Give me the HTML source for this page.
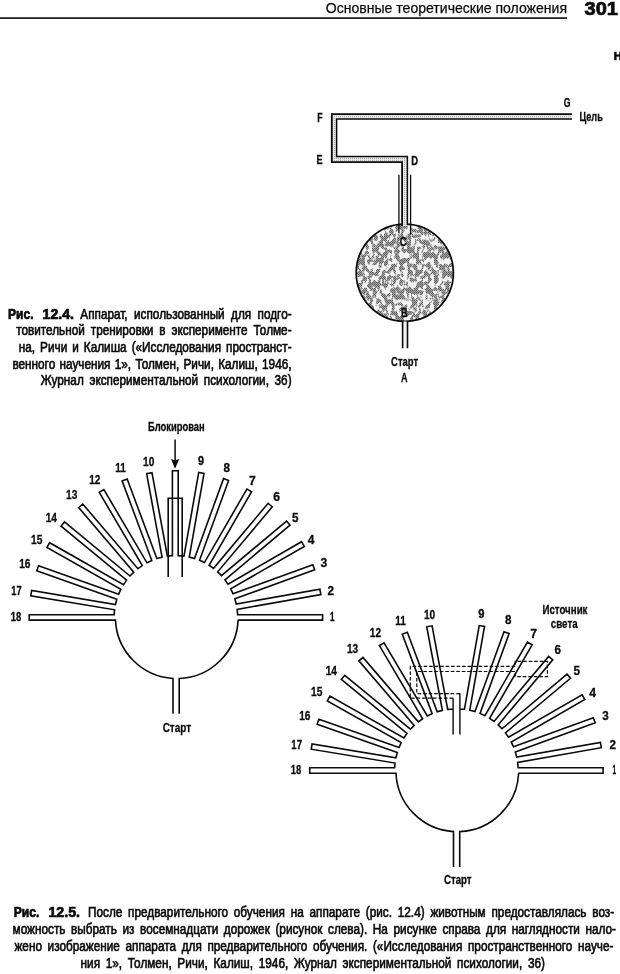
<!DOCTYPE html>
<html lang="ru"><head><meta charset="utf-8"><title>301</title>
<style>
html,body{margin:0;padding:0;background:#fff;}
body{width:620px;height:974px;overflow:hidden;position:relative;}
svg{position:absolute;left:0;top:0;display:block;}
text{font-family:"Liberation Sans",sans-serif;fill:#0a0a0a;}
.ln{stroke:#0a0a0a;fill:none;}
.lb{font-weight:bold;stroke:#0a0a0a;stroke-width:0.3px;}
.cp{stroke:#0a0a0a;stroke-width:0.65px;}
.hd{stroke:#0a0a0a;stroke-width:0.25px;}
.b{font-weight:bold;stroke:#0a0a0a;stroke-width:0.7px;}
svg{transform:translateZ(0);filter:blur(0.35px);}
</style></head><body>
<svg width="620" height="974" viewBox="0 0 620 974">
<defs>
<filter id="stip" x="0" y="0" width="100%" height="100%" color-interpolation-filters="sRGB"><feTurbulence type="fractalNoise" baseFrequency="0.26 0.17" numOctaves="3" seed="11" result="n"/><feColorMatrix in="n" type="matrix" values="0 0 0 0 0  0 0 0 0 0  0 0 0 0 0  9 0 0 0 -3.9" result="m"/><feComposite in="SourceGraphic" in2="m" operator="in"/></filter>
<pattern id="dots" width="2" height="2" patternUnits="userSpaceOnUse"><rect width="2" height="2" fill="#a2a2a2"/><rect width="1" height="1" fill="#5c5c5c"/><rect x="1" y="1" width="1" height="1" fill="#6e6e6e"/></pattern>
<pattern id="dots2" width="2" height="2" patternUnits="userSpaceOnUse"><rect width="2" height="2" fill="#e6e6e6"/><rect width="1" height="1" fill="#b4b4b4"/></pattern>
</defs>
<text x="325.80" y="13.0" font-size="14.2" textLength="241.20" lengthAdjust="spacingAndGlyphs" class="hd">Основные теоретические положения</text>
<text x="584.60" y="15.0" font-size="18" textLength="33.31" lengthAdjust="spacingAndGlyphs" class="b hb">301</text>
<rect x="0" y="17.3" width="567" height="1.6" fill="#0a0a0a"/>
<text x="613.80" y="60.0" font-size="11.5" textLength="8.30" lengthAdjust="spacingAndGlyphs" class="b">Н</text>
<circle cx="404.8" cy="272.8" r="48.6" fill="#f3f3f3"/>
<circle cx="404.8" cy="272.8" r="48.6" fill="url(#dots)" filter="url(#stip)"/>
<circle cx="404.8" cy="272.8" r="48.6" class="ln" stroke-width="1.7"/>
<path d="M572,116.5 H334.2 V159.3 H404.75 V226" fill="none" stroke="url(#dots2)" stroke-width="4.6"/>
<path d="M572,114.2 H331.8 V162.1 H402.1 V226" class="ln" stroke-width="1.8" stroke-linejoin="miter"/>
<path d="M572,118.9 H336.6 V156.5 H407.4 V225" class="ln" stroke-width="1.5" stroke-linejoin="miter"/>
<path d="M398.9,174.7 V233.2 M410.6,174.7 V234.4" class="ln" stroke-width="1.3"/>
<rect x="402.6" y="321.5" width="4.9" height="26.5" fill="#f2f2f2"/>
<path d="M402.6,321 V348.2 M407.5,321 V348.2" class="ln" stroke-width="1.6"/>
<text x="563.70" y="106.5" font-size="13.0" textLength="6.80" lengthAdjust="spacingAndGlyphs" class="lb">G</text>
<text x="579.40" y="120.8" font-size="13.0" textLength="23.50" lengthAdjust="spacingAndGlyphs" class="lb">Цель</text>
<text x="317.20" y="122.3" font-size="13.0" textLength="5.40" lengthAdjust="spacingAndGlyphs" class="lb">F</text>
<text x="316.50" y="163.6" font-size="13.0" textLength="6.10" lengthAdjust="spacingAndGlyphs" class="lb">E</text>
<text x="411.30" y="164.7" font-size="13.0" textLength="6.80" lengthAdjust="spacingAndGlyphs" class="lb">D</text>
<text x="399.70" y="246.1" font-size="13.0" textLength="6.90" lengthAdjust="spacingAndGlyphs" class="lb">C</text>
<text x="401.10" y="316.5" font-size="13.0" textLength="6.60" lengthAdjust="spacingAndGlyphs" class="lb">B</text>
<text x="391.10" y="366.4" font-size="13.0" textLength="27.00" lengthAdjust="spacingAndGlyphs" class="lb">Старт</text>
<text x="401.10" y="382.4" font-size="13.0" textLength="6.60" lengthAdjust="spacingAndGlyphs" class="lb">A</text>
<text x="8.00" y="318.7" font-size="14.2" textLength="25.50" lengthAdjust="spacingAndGlyphs" class="b">Рис.</text>
<text x="42.60" y="318.7" font-size="14.2" textLength="31.40" lengthAdjust="spacingAndGlyphs" class="b">12.4.</text>
<text transform="translate(80.3,318.7) scale(0.83,1)" font-size="14.2" word-spacing="3.78" class="cp">Аппарат, использованный для подго-</text>
<text transform="translate(16.2,335.4) scale(0.83,1)" font-size="14.2" word-spacing="3.19" class="cp">товительной тренировки в эксперименте Толме-</text>
<text transform="translate(18.8,352.0) scale(0.83,1)" font-size="14.2" word-spacing="2.08" class="cp">на, Ричи и Калиша («Исследования пространст-</text>
<text transform="translate(12.4,368.6) scale(0.83,1)" font-size="14.2" word-spacing="1.24" class="cp">венного научения 1», Толмен, Ричи, Калиш, 1946,</text>
<text transform="translate(40.8,385.3) scale(0.83,1)" font-size="14.2" word-spacing="2.85" class="cp">Журнал экспериментальной психологии, 36)</text>
<path d="M237.64,620.10 L322.60,620.10 L322.60,614.70 L237.64,614.70 L237.17,609.34 L320.84,594.58 L319.90,589.27 L236.23,604.02 L234.84,598.82 L314.68,569.76 L312.83,564.69 L232.99,593.75 L230.72,588.87 L304.30,546.39 L301.60,541.71 L228.02,584.19 L224.93,579.78 L290.01,525.17 L286.54,521.03 L221.46,575.65 L217.65,571.84 L272.27,506.76 L268.13,503.29 L213.52,568.37 L209.11,565.28 L251.59,491.70 L246.91,489.00 L204.43,562.58 L199.55,560.31 L228.61,480.47 L223.54,478.62 L194.48,558.46 L189.28,557.07 L204.03,473.40 L198.72,472.46 L183.96,556.13 L178.20,555.67 L178.20,470.70 L172.40,470.70 L172.40,555.67 L167.36,556.19 L151.95,472.64 L146.64,473.62 L162.05,557.17 L156.86,558.61 L127.17,479.00 L122.11,480.89 L151.80,560.49 L146.94,562.81 L103.88,489.57 L99.23,492.30 L142.28,565.54 L137.90,568.67 L82.78,504.01 L78.67,507.52 L133.79,572.17 L130.01,576.00 L64.50,521.91 L61.06,526.07 L126.57,580.17 L123.52,584.60 L49.61,542.70 L46.95,547.40 L120.86,589.30 L118.62,594.20 L38.56,565.77 L36.75,570.85 L116.81,599.28 L115.46,604.49 L31.68,590.40 L30.79,595.72 L114.57,609.82 L114.16,614.70 L29.20,614.70 L29.20,620.10 L114.16,620.10 M114.16,620.10 H115.47 A61.4,61.4 0 0 0 173.00,678.48 V713.8 M237.64,620.10 H238.13 A61.4,61.4 0 0 1 179.20,678.55 V713.8" class="ln" stroke-width="1.6" stroke-linejoin="miter"/>
<path d="M168.2,577.0 V498.3 H182.2 V577.0" class="ln" stroke-width="1.6"/>
<path d="M175.1,439.5 V462" class="ln" stroke-width="1.5"/>
<path d="M171.0,459.0 L175.1,468.8 L179.2,459.0 Q175.1,461.2 171.0,459.0 Z" fill="#0a0a0a"/>
<text x="147.90" y="431.0" font-size="13.0" textLength="56.80" lengthAdjust="spacingAndGlyphs" class="lb">Блокирован</text>
<text x="162.70" y="731.6" font-size="13.0" textLength="28.40" lengthAdjust="spacingAndGlyphs" class="lb">Старт</text>
<path d="M518.14,773.20 L603.10,773.20 L603.10,767.80 L518.14,767.80 L517.67,762.44 L601.34,747.68 L600.40,742.37 L516.73,757.12 L515.34,751.92 L595.18,722.86 L593.33,717.79 L513.49,746.85 L511.22,741.97 L584.80,699.49 L582.10,694.81 L508.52,737.29 L505.43,732.88 L570.51,678.27 L567.04,674.13 L501.96,728.75 L498.15,724.94 L552.77,659.86 L548.63,656.39 L494.02,721.47 L489.61,718.38 L532.09,644.80 L527.41,642.10 L484.93,715.68 L480.05,713.41 L509.11,633.57 L504.04,631.72 L474.98,711.56 L469.78,710.17 L484.53,626.50 L479.22,625.56 L464.46,709.23 L459.90,709.23 M453.10,709.23 L447.70,709.32 L432.07,625.81 L426.76,626.80 L442.39,710.31 L437.20,711.76 L407.31,632.23 L402.26,634.13 L432.15,713.66 L427.30,715.98 L384.05,642.85 L379.40,645.60 L422.65,718.73 L418.27,721.86 L362.98,657.36 L358.88,660.87 L414.17,725.38 L410.40,729.22 L344.75,675.30 L341.33,679.47 L406.98,733.40 L403.94,737.84 L329.92,696.13 L327.27,700.84 L401.28,742.54 L399.06,747.45 L318.93,719.23 L317.13,724.32 L397.27,752.54 L395.93,757.75 L312.11,743.88 L311.23,749.20 L395.05,763.08 L394.66,767.80 L309.70,767.80 L309.70,773.20 L394.66,773.20 M394.66,773.20 H395.97 A61.4,61.4 0 0 0 453.50,831.58 V866.9 M518.14,773.20 H518.63 A61.4,61.4 0 0 1 459.70,831.65 V866.9" class="ln" stroke-width="1.6" stroke-linejoin="miter"/>
<text x="444.00" y="883.9" font-size="13.0" textLength="27.60" lengthAdjust="spacingAndGlyphs" class="lb">Старт</text>
<text x="542.40" y="613.7" font-size="13.0" textLength="45.09" lengthAdjust="spacingAndGlyphs" class="lb">Источник</text>
<text x="550.80" y="627.5" font-size="13.0" textLength="26.84" lengthAdjust="spacingAndGlyphs" class="lb">света</text>
<path d="M453.1,698.2 H410.3 V666.3 H515.2 V661.4 H547.4 V676.6 H515.2 V671.5 H416.8 V693.6 H456.5" class="ln" stroke-width="1.2" stroke-dasharray="3.6 1.9"/>
<path d="M453.1,698.3 V734.5 M456.5,693.6 H459.9 V734.5" class="ln" stroke-width="1.4"/>
<text x="10.70" y="620.6" font-size="13.0" textLength="10.50" lengthAdjust="spacingAndGlyphs" class="lb">18</text>
<text x="11.30" y="595.2" font-size="13.0" textLength="10.40" lengthAdjust="spacingAndGlyphs" class="lb">17</text>
<text x="19.20" y="567.6" font-size="13.0" textLength="11.30" lengthAdjust="spacingAndGlyphs" class="lb">16</text>
<text x="31.00" y="543.6" font-size="13.0" textLength="11.30" lengthAdjust="spacingAndGlyphs" class="lb">15</text>
<text x="45.70" y="522.4" font-size="13.0" textLength="11.30" lengthAdjust="spacingAndGlyphs" class="lb">14</text>
<text x="66.00" y="499.3" font-size="13.0" textLength="11.30" lengthAdjust="spacingAndGlyphs" class="lb">13</text>
<text x="89.20" y="483.5" font-size="13.0" textLength="11.30" lengthAdjust="spacingAndGlyphs" class="lb">12</text>
<text x="115.20" y="471.6" font-size="13.0" textLength="10.70" lengthAdjust="spacingAndGlyphs" class="lb">11</text>
<text x="143.10" y="466.0" font-size="13.0" textLength="11.30" lengthAdjust="spacingAndGlyphs" class="lb">10</text>
<text x="198.10" y="465.4" font-size="13.0" textLength="6.00" lengthAdjust="spacingAndGlyphs" class="lb">9</text>
<text x="223.50" y="471.6" font-size="13.0" textLength="6.50" lengthAdjust="spacingAndGlyphs" class="lb">8</text>
<text x="249.00" y="485.2" font-size="13.0" textLength="6.70" lengthAdjust="spacingAndGlyphs" class="lb">7</text>
<text x="273.20" y="500.7" font-size="13.0" textLength="6.80" lengthAdjust="spacingAndGlyphs" class="lb">6</text>
<text x="292.10" y="521.9" font-size="13.0" textLength="6.50" lengthAdjust="spacingAndGlyphs" class="lb">5</text>
<text x="307.70" y="543.9" font-size="13.0" textLength="6.70" lengthAdjust="spacingAndGlyphs" class="lb">4</text>
<text x="320.60" y="567.0" font-size="13.0" textLength="6.80" lengthAdjust="spacingAndGlyphs" class="lb">3</text>
<text x="327.40" y="595.2" font-size="13.0" textLength="6.50" lengthAdjust="spacingAndGlyphs" class="lb">2</text>
<text x="330.00" y="620.6" font-size="13.0" textLength="4.50" lengthAdjust="spacingAndGlyphs" class="lb">1</text>
<text x="290.70" y="774.0" font-size="13.0" textLength="10.50" lengthAdjust="spacingAndGlyphs" class="lb">18</text>
<text x="291.30" y="748.6" font-size="13.0" textLength="10.70" lengthAdjust="spacingAndGlyphs" class="lb">17</text>
<text x="299.20" y="720.4" font-size="13.0" textLength="11.30" lengthAdjust="spacingAndGlyphs" class="lb">16</text>
<text x="311.00" y="696.4" font-size="13.0" textLength="11.30" lengthAdjust="spacingAndGlyphs" class="lb">15</text>
<text x="325.70" y="675.2" font-size="13.0" textLength="11.30" lengthAdjust="spacingAndGlyphs" class="lb">14</text>
<text x="346.90" y="652.7" font-size="13.0" textLength="11.30" lengthAdjust="spacingAndGlyphs" class="lb">13</text>
<text x="369.80" y="636.6" font-size="13.0" textLength="11.20" lengthAdjust="spacingAndGlyphs" class="lb">12</text>
<text x="395.20" y="625.0" font-size="13.0" textLength="10.70" lengthAdjust="spacingAndGlyphs" class="lb">11</text>
<text x="423.90" y="618.8" font-size="13.0" textLength="11.30" lengthAdjust="spacingAndGlyphs" class="lb">10</text>
<text x="478.30" y="618.2" font-size="13.0" textLength="6.20" lengthAdjust="spacingAndGlyphs" class="lb">9</text>
<text x="505.10" y="624.4" font-size="13.0" textLength="6.50" lengthAdjust="spacingAndGlyphs" class="lb">8</text>
<text x="530.20" y="638.0" font-size="13.0" textLength="6.80" lengthAdjust="spacingAndGlyphs" class="lb">7</text>
<text x="554.50" y="654.0" font-size="13.0" textLength="6.50" lengthAdjust="spacingAndGlyphs" class="lb">6</text>
<text x="573.40" y="675.2" font-size="13.0" textLength="6.50" lengthAdjust="spacingAndGlyphs" class="lb">5</text>
<text x="589.20" y="696.7" font-size="13.0" textLength="6.80" lengthAdjust="spacingAndGlyphs" class="lb">4</text>
<text x="602.20" y="719.8" font-size="13.0" textLength="6.50" lengthAdjust="spacingAndGlyphs" class="lb">3</text>
<text x="609.50" y="748.6" font-size="13.0" textLength="6.50" lengthAdjust="spacingAndGlyphs" class="lb">2</text>
<text x="612.40" y="774.0" font-size="13.0" textLength="3.60" lengthAdjust="spacingAndGlyphs" class="lb">1</text>
<text x="13.80" y="917.3" font-size="14.2" textLength="25.60" lengthAdjust="spacingAndGlyphs" class="b">Рис.</text>
<text x="48.50" y="917.3" font-size="14.2" textLength="31.50" lengthAdjust="spacingAndGlyphs" class="b">12.5.</text>
<text transform="translate(88.0,917.3) scale(0.83,1)" font-size="14.2" word-spacing="3.05" class="cp">После предварительного обучения на аппарате (рис. 12.4) животным предоставлялась воз-</text>
<text transform="translate(12.6,934.1) scale(0.83,1)" font-size="14.2" word-spacing="2.85" class="cp">можность выбрать из восемнадцати дорожек (рисунок слева). На рисунке справа для наглядности нало-</text>
<text transform="translate(14.5,951.0) scale(0.83,1)" font-size="14.2" word-spacing="2.87" class="cp">жено изображение аппарата для предварительного обучения. («Исследования пространственного науче-</text>
<text transform="translate(80.6,967.8) scale(0.83,1)" font-size="14.2" word-spacing="2.94" class="cp">ния 1», Толмен, Ричи, Калиш, 1946, Журнал экспериментальной психологии, 36)</text>
</svg>
</body></html>
